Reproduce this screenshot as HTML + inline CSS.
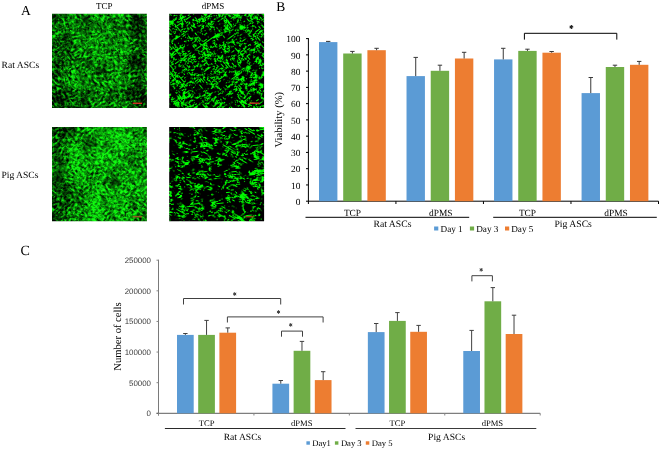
<!DOCTYPE html>
<html><head><meta charset="utf-8"><style>
html,body{margin:0;padding:0;background:#fff;}
body{width:660px;height:449px;overflow:hidden;}
svg{display:block;will-change:transform;text-rendering:geometricPrecision;}
</style></head><body>
<svg width="660" height="449" viewBox="0 0 660 449">
<defs><filter id="fT1a" filterUnits="userSpaceOnUse" x="-8" y="-46.2" width="215" height="214" color-interpolation-filters="sRGB">
<feGaussianBlur in="SourceGraphic" stdDeviation="3" result="map"/>
<feTurbulence type="fractalNoise" baseFrequency="0.28 0.5" numOctaves="2" seed="3" result="t"/>
<feColorMatrix in="t" type="matrix" values="2.3 0 0 0 -0.75  2.3 0 0 0 -0.75  2.3 0 0 0 -0.75  0 0 0 0 1" result="F"/>
<feTurbulence type="fractalNoise" baseFrequency="0.05" numOctaves="3" seed="34" result="t2"/>
<feColorMatrix in="t2" type="matrix" values="2 0 0 0 -0.2  2 0 0 0 -0.2  2 0 0 0 -0.2  0 0 0 0 1" result="M"/>
<feComposite in="F" in2="M" operator="arithmetic" k1="1" k2="0" k3="0" k4="0" result="FM"/>
<feComposite in="FM" in2="map" operator="arithmetic" k1="0" k2="1" k3="1" k4="-0.9" result="v"/>
<feColorMatrix in="v" type="matrix" values="0 0.08 0 0 0  0 1.35 0 0 0  0 0.08 0 0 0  0 0 0 0 1"/><feGaussianBlur stdDeviation="0.6"/></filter><filter id="fT1b" filterUnits="userSpaceOnUse" x="-8" y="-46.2" width="215" height="214" color-interpolation-filters="sRGB">
<feGaussianBlur in="SourceGraphic" stdDeviation="3" result="map"/>
<feTurbulence type="fractalNoise" baseFrequency="0.28 0.5" numOctaves="2" seed="7" result="t"/>
<feColorMatrix in="t" type="matrix" values="2.3 0 0 0 -0.75  2.3 0 0 0 -0.75  2.3 0 0 0 -0.75  0 0 0 0 1" result="F"/>
<feTurbulence type="fractalNoise" baseFrequency="0.05" numOctaves="3" seed="38" result="t2"/>
<feColorMatrix in="t2" type="matrix" values="2 0 0 0 -0.2  2 0 0 0 -0.2  2 0 0 0 -0.2  0 0 0 0 1" result="M"/>
<feComposite in="F" in2="M" operator="arithmetic" k1="1" k2="0" k3="0" k4="0" result="FM"/>
<feComposite in="FM" in2="map" operator="arithmetic" k1="0" k2="1" k3="1" k4="-0.9" result="v"/>
<feColorMatrix in="v" type="matrix" values="0 0.08 0 0 0  0 1.35 0 0 0  0 0.08 0 0 0  0 0 0 0 1"/><feGaussianBlur stdDeviation="0.6"/></filter><filter id="fT2a" filterUnits="userSpaceOnUse" x="-8" y="66.9" width="215" height="214" color-interpolation-filters="sRGB">
<feGaussianBlur in="SourceGraphic" stdDeviation="3" result="map"/>
<feTurbulence type="fractalNoise" baseFrequency="0.28 0.5" numOctaves="2" seed="9" result="t"/>
<feColorMatrix in="t" type="matrix" values="2.3 0 0 0 -0.72  2.3 0 0 0 -0.72  2.3 0 0 0 -0.72  0 0 0 0 1" result="F"/>
<feTurbulence type="fractalNoise" baseFrequency="0.05" numOctaves="3" seed="40" result="t2"/>
<feColorMatrix in="t2" type="matrix" values="2 0 0 0 -0.2  2 0 0 0 -0.2  2 0 0 0 -0.2  0 0 0 0 1" result="M"/>
<feComposite in="F" in2="M" operator="arithmetic" k1="1" k2="0" k3="0" k4="0" result="FM"/>
<feComposite in="FM" in2="map" operator="arithmetic" k1="0" k2="1" k3="1" k4="-0.9" result="v"/>
<feColorMatrix in="v" type="matrix" values="0 0.08 0 0 0  0 1.35 0 0 0  0 0.08 0 0 0  0 0 0 0 1"/><feGaussianBlur stdDeviation="0.6"/></filter><filter id="fT2b" filterUnits="userSpaceOnUse" x="-8" y="66.9" width="215" height="214" color-interpolation-filters="sRGB">
<feGaussianBlur in="SourceGraphic" stdDeviation="3" result="map"/>
<feTurbulence type="fractalNoise" baseFrequency="0.28 0.5" numOctaves="2" seed="15" result="t"/>
<feColorMatrix in="t" type="matrix" values="2.3 0 0 0 -0.72  2.3 0 0 0 -0.72  2.3 0 0 0 -0.72  0 0 0 0 1" result="F"/>
<feTurbulence type="fractalNoise" baseFrequency="0.05" numOctaves="3" seed="46" result="t2"/>
<feColorMatrix in="t2" type="matrix" values="2 0 0 0 -0.2  2 0 0 0 -0.2  2 0 0 0 -0.2  0 0 0 0 1" result="M"/>
<feComposite in="F" in2="M" operator="arithmetic" k1="1" k2="0" k3="0" k4="0" result="FM"/>
<feComposite in="FM" in2="map" operator="arithmetic" k1="0" k2="1" k3="1" k4="-0.9" result="v"/>
<feColorMatrix in="v" type="matrix" values="0 0.08 0 0 0  0 1.35 0 0 0  0 0.08 0 0 0  0 0 0 0 1"/><feGaussianBlur stdDeviation="0.6"/></filter><filter id="fD1a" filterUnits="userSpaceOnUse" x="109.19999999999999" y="-46.2" width="215" height="214" color-interpolation-filters="sRGB">
<feGaussianBlur in="SourceGraphic" stdDeviation="4" result="map"/>
<feTurbulence type="turbulence" baseFrequency="0.12 0.3" numOctaves="2" seed="5" result="t"/>
<feColorMatrix in="t" type="matrix" values="-5 0 0 0 1.1  -5 0 0 0 1.1  -5 0 0 0 1.1  0 0 0 0 1" result="L"/>
<feTurbulence type="fractalNoise" baseFrequency="0.1" numOctaves="2" seed="22" result="t2"/>
<feColorMatrix in="t2" type="matrix" values="1 0 0 0 0  1 0 0 0 0  1 0 0 0 0  0 0 0 0 1" result="T"/>
<feComposite in="T" in2="map" operator="arithmetic" k1="0" k2="4" k3="3" k4="-4.1" result="M"/>
<feComposite in="L" in2="M" operator="arithmetic" k1="1" k2="0" k3="0" k4="0" result="LM"/>
<feColorMatrix in="LM" type="matrix" values="0 0 0 0 0  0 3.4 0 0 -0.68  0 0 0 0 0  0 0 0 0 1"/><feGaussianBlur stdDeviation="0.6"/></filter><filter id="fD1b" filterUnits="userSpaceOnUse" x="109.19999999999999" y="-46.2" width="215" height="214" color-interpolation-filters="sRGB">
<feGaussianBlur in="SourceGraphic" stdDeviation="4" result="map"/>
<feTurbulence type="turbulence" baseFrequency="0.12 0.3" numOctaves="2" seed="11" result="t"/>
<feColorMatrix in="t" type="matrix" values="-5 0 0 0 1.1  -5 0 0 0 1.1  -5 0 0 0 1.1  0 0 0 0 1" result="L"/>
<feTurbulence type="fractalNoise" baseFrequency="0.1" numOctaves="2" seed="28" result="t2"/>
<feColorMatrix in="t2" type="matrix" values="1 0 0 0 0  1 0 0 0 0  1 0 0 0 0  0 0 0 0 1" result="T"/>
<feComposite in="T" in2="map" operator="arithmetic" k1="0" k2="4" k3="3" k4="-4.3" result="M"/>
<feComposite in="L" in2="M" operator="arithmetic" k1="1" k2="0" k3="0" k4="0" result="LM"/>
<feColorMatrix in="LM" type="matrix" values="0 0 0 0 0  0 3.4 0 0 -0.68  0 0 0 0 0  0 0 0 0 1"/><feGaussianBlur stdDeviation="0.6"/></filter><filter id="fD2a" filterUnits="userSpaceOnUse" x="109.19999999999999" y="66.9" width="215" height="214" color-interpolation-filters="sRGB">
<feGaussianBlur in="SourceGraphic" stdDeviation="4" result="map"/>
<feTurbulence type="turbulence" baseFrequency="0.1 0.24" numOctaves="2" seed="8" result="t"/>
<feColorMatrix in="t" type="matrix" values="-5 0 0 0 1.1  -5 0 0 0 1.1  -5 0 0 0 1.1  0 0 0 0 1" result="L"/>
<feTurbulence type="fractalNoise" baseFrequency="0.08" numOctaves="2" seed="25" result="t2"/>
<feColorMatrix in="t2" type="matrix" values="1 0 0 0 0  1 0 0 0 0  1 0 0 0 0  0 0 0 0 1" result="T"/>
<feComposite in="T" in2="map" operator="arithmetic" k1="0" k2="4" k3="3" k4="-4.2" result="M"/>
<feComposite in="L" in2="M" operator="arithmetic" k1="1" k2="0" k3="0" k4="0" result="LM"/>
<feColorMatrix in="LM" type="matrix" values="0 0 0 0 0  0 3.6 0 0 -0.792  0 0 0 0 0  0 0 0 0 1"/><feGaussianBlur stdDeviation="0.6"/></filter><filter id="fD2b" filterUnits="userSpaceOnUse" x="109.19999999999999" y="66.9" width="215" height="214" color-interpolation-filters="sRGB">
<feGaussianBlur in="SourceGraphic" stdDeviation="4" result="map"/>
<feTurbulence type="turbulence" baseFrequency="0.1 0.24" numOctaves="2" seed="13" result="t"/>
<feColorMatrix in="t" type="matrix" values="-5 0 0 0 1.1  -5 0 0 0 1.1  -5 0 0 0 1.1  0 0 0 0 1" result="L"/>
<feTurbulence type="fractalNoise" baseFrequency="0.08" numOctaves="2" seed="30" result="t2"/>
<feColorMatrix in="t2" type="matrix" values="1 0 0 0 0  1 0 0 0 0  1 0 0 0 0  0 0 0 0 1" result="T"/>
<feComposite in="T" in2="map" operator="arithmetic" k1="0" k2="4" k3="3" k4="-4.4" result="M"/>
<feComposite in="L" in2="M" operator="arithmetic" k1="1" k2="0" k3="0" k4="0" result="LM"/>
<feColorMatrix in="LM" type="matrix" values="0 0 0 0 0  0 3.6 0 0 -0.792  0 0 0 0 0  0 0 0 0 1"/><feGaussianBlur stdDeviation="0.6"/></filter></defs>
<rect width="660" height="449" fill="#fff"/>
<text x="21.1" y="15.2" font-size="13.6" text-anchor="start" font-family="'Liberation Serif', serif" fill="#000" >A</text>
<text x="104.2" y="8.6" font-size="9" text-anchor="middle" font-family="'Liberation Serif', serif" fill="#000" >TCP</text>
<text x="213" y="8.6" font-size="9" text-anchor="middle" font-family="'Liberation Serif', serif" fill="#000" >dPMS</text>
<text x="1.6" y="67.9" font-size="9.6" text-anchor="start" font-family="'Liberation Serif', serif" fill="#000" >Rat ASCs</text>
<text x="1.4" y="177.8" font-size="9.6" text-anchor="start" font-family="'Liberation Serif', serif" fill="#000" >Pig ASCs</text>
<clipPath id="cT1"><rect x="52" y="13.8" width="94.9" height="94.3"/></clipPath><g clip-path="url(#cT1)" style="isolation:isolate"><g transform="rotate(-35 99.45 60.95)" filter="url(#fT1a)"><g transform="rotate(35 99.45 60.95)"><rect x="12.0" y="-26.2" width="59.6" height="59.5" fill="rgb(0,204,0)"/><rect x="71.0" y="-26.2" width="19.6" height="59.5" fill="rgb(0,214,0)"/><rect x="90.0" y="-26.2" width="19.6" height="59.5" fill="rgb(0,219,0)"/><rect x="108.9" y="-26.2" width="19.6" height="59.5" fill="rgb(0,214,0)"/><rect x="127.9" y="-26.2" width="59.6" height="59.5" fill="rgb(0,189,0)"/><rect x="12.0" y="32.7" width="59.6" height="19.5" fill="rgb(0,178,0)"/><rect x="71.0" y="32.7" width="19.6" height="19.5" fill="rgb(0,219,0)"/><rect x="90.0" y="32.7" width="19.6" height="19.5" fill="rgb(0,230,0)"/><rect x="108.9" y="32.7" width="19.6" height="19.5" fill="rgb(0,219,0)"/><rect x="127.9" y="32.7" width="59.6" height="19.5" fill="rgb(0,194,0)"/><rect x="12.0" y="51.5" width="59.6" height="19.5" fill="rgb(0,168,0)"/><rect x="71.0" y="51.5" width="19.6" height="19.5" fill="rgb(0,214,0)"/><rect x="90.0" y="51.5" width="19.6" height="19.5" fill="rgb(0,219,0)"/><rect x="108.9" y="51.5" width="19.6" height="19.5" fill="rgb(0,204,0)"/><rect x="127.9" y="51.5" width="59.6" height="19.5" fill="rgb(0,178,0)"/><rect x="12.0" y="70.4" width="59.6" height="19.5" fill="rgb(0,194,0)"/><rect x="71.0" y="70.4" width="19.6" height="19.5" fill="rgb(0,230,0)"/><rect x="90.0" y="70.4" width="19.6" height="19.5" fill="rgb(0,219,0)"/><rect x="108.9" y="70.4" width="19.6" height="19.5" fill="rgb(0,224,0)"/><rect x="127.9" y="70.4" width="59.6" height="19.5" fill="rgb(0,204,0)"/><rect x="12.0" y="89.2" width="59.6" height="59.5" fill="rgb(0,163,0)"/><rect x="71.0" y="89.2" width="19.6" height="59.5" fill="rgb(0,189,0)"/><rect x="90.0" y="89.2" width="19.6" height="59.5" fill="rgb(0,204,0)"/><rect x="108.9" y="89.2" width="19.6" height="59.5" fill="rgb(0,189,0)"/><rect x="127.9" y="89.2" width="59.6" height="59.5" fill="rgb(0,163,0)"/></g></g><g style="mix-blend-mode:lighten"><g transform="rotate(50 99.45 60.95)" filter="url(#fT1b)"><g transform="rotate(-50 99.45 60.95)"><rect x="12.0" y="-26.2" width="59.6" height="59.5" fill="rgb(0,204,0)"/><rect x="71.0" y="-26.2" width="19.6" height="59.5" fill="rgb(0,214,0)"/><rect x="90.0" y="-26.2" width="19.6" height="59.5" fill="rgb(0,219,0)"/><rect x="108.9" y="-26.2" width="19.6" height="59.5" fill="rgb(0,214,0)"/><rect x="127.9" y="-26.2" width="59.6" height="59.5" fill="rgb(0,189,0)"/><rect x="12.0" y="32.7" width="59.6" height="19.5" fill="rgb(0,178,0)"/><rect x="71.0" y="32.7" width="19.6" height="19.5" fill="rgb(0,219,0)"/><rect x="90.0" y="32.7" width="19.6" height="19.5" fill="rgb(0,230,0)"/><rect x="108.9" y="32.7" width="19.6" height="19.5" fill="rgb(0,219,0)"/><rect x="127.9" y="32.7" width="59.6" height="19.5" fill="rgb(0,194,0)"/><rect x="12.0" y="51.5" width="59.6" height="19.5" fill="rgb(0,168,0)"/><rect x="71.0" y="51.5" width="19.6" height="19.5" fill="rgb(0,214,0)"/><rect x="90.0" y="51.5" width="19.6" height="19.5" fill="rgb(0,219,0)"/><rect x="108.9" y="51.5" width="19.6" height="19.5" fill="rgb(0,204,0)"/><rect x="127.9" y="51.5" width="59.6" height="19.5" fill="rgb(0,178,0)"/><rect x="12.0" y="70.4" width="59.6" height="19.5" fill="rgb(0,194,0)"/><rect x="71.0" y="70.4" width="19.6" height="19.5" fill="rgb(0,230,0)"/><rect x="90.0" y="70.4" width="19.6" height="19.5" fill="rgb(0,219,0)"/><rect x="108.9" y="70.4" width="19.6" height="19.5" fill="rgb(0,224,0)"/><rect x="127.9" y="70.4" width="59.6" height="19.5" fill="rgb(0,204,0)"/><rect x="12.0" y="89.2" width="59.6" height="59.5" fill="rgb(0,163,0)"/><rect x="71.0" y="89.2" width="19.6" height="59.5" fill="rgb(0,189,0)"/><rect x="90.0" y="89.2" width="19.6" height="59.5" fill="rgb(0,204,0)"/><rect x="108.9" y="89.2" width="19.6" height="59.5" fill="rgb(0,189,0)"/><rect x="127.9" y="89.2" width="59.6" height="59.5" fill="rgb(0,163,0)"/></g></g></g></g>
<clipPath id="cD1"><rect x="169.2" y="13.8" width="94.9" height="94.3"/></clipPath><g clip-path="url(#cD1)" style="isolation:isolate"><g transform="rotate(-35 216.64999999999998 60.95)" filter="url(#fD1a)"><g transform="rotate(35 216.64999999999998 60.95)"><rect x="129.2" y="-26.2" width="59.6" height="59.5" fill="rgb(0,247,0)"/><rect x="188.2" y="-26.2" width="19.6" height="59.5" fill="rgb(0,252,0)"/><rect x="207.2" y="-26.2" width="19.6" height="59.5" fill="rgb(0,255,0)"/><rect x="226.1" y="-26.2" width="19.6" height="59.5" fill="rgb(0,255,0)"/><rect x="245.1" y="-26.2" width="59.6" height="59.5" fill="rgb(0,255,0)"/><rect x="129.2" y="32.7" width="59.6" height="19.5" fill="rgb(0,250,0)"/><rect x="188.2" y="32.7" width="19.6" height="19.5" fill="rgb(0,252,0)"/><rect x="207.2" y="32.7" width="19.6" height="19.5" fill="rgb(0,255,0)"/><rect x="226.1" y="32.7" width="19.6" height="19.5" fill="rgb(0,255,0)"/><rect x="245.1" y="32.7" width="59.6" height="19.5" fill="rgb(0,255,0)"/><rect x="129.2" y="51.5" width="59.6" height="19.5" fill="rgb(0,252,0)"/><rect x="188.2" y="51.5" width="19.6" height="19.5" fill="rgb(0,255,0)"/><rect x="207.2" y="51.5" width="19.6" height="19.5" fill="rgb(0,255,0)"/><rect x="226.1" y="51.5" width="19.6" height="19.5" fill="rgb(0,252,0)"/><rect x="245.1" y="51.5" width="59.6" height="19.5" fill="rgb(0,252,0)"/><rect x="129.2" y="70.4" width="59.6" height="19.5" fill="rgb(0,247,0)"/><rect x="188.2" y="70.4" width="19.6" height="19.5" fill="rgb(0,252,0)"/><rect x="207.2" y="70.4" width="19.6" height="19.5" fill="rgb(0,252,0)"/><rect x="226.1" y="70.4" width="19.6" height="19.5" fill="rgb(0,247,0)"/><rect x="245.1" y="70.4" width="59.6" height="19.5" fill="rgb(0,252,0)"/><rect x="129.2" y="89.2" width="59.6" height="59.5" fill="rgb(0,242,0)"/><rect x="188.2" y="89.2" width="19.6" height="59.5" fill="rgb(0,247,0)"/><rect x="207.2" y="89.2" width="19.6" height="59.5" fill="rgb(0,245,0)"/><rect x="226.1" y="89.2" width="19.6" height="59.5" fill="rgb(0,242,0)"/><rect x="245.1" y="89.2" width="59.6" height="59.5" fill="rgb(0,247,0)"/></g></g><g style="mix-blend-mode:lighten"><g transform="rotate(50 216.64999999999998 60.95)" filter="url(#fD1b)"><g transform="rotate(-50 216.64999999999998 60.95)"><rect x="129.2" y="-26.2" width="59.6" height="59.5" fill="rgb(0,247,0)"/><rect x="188.2" y="-26.2" width="19.6" height="59.5" fill="rgb(0,252,0)"/><rect x="207.2" y="-26.2" width="19.6" height="59.5" fill="rgb(0,255,0)"/><rect x="226.1" y="-26.2" width="19.6" height="59.5" fill="rgb(0,255,0)"/><rect x="245.1" y="-26.2" width="59.6" height="59.5" fill="rgb(0,255,0)"/><rect x="129.2" y="32.7" width="59.6" height="19.5" fill="rgb(0,250,0)"/><rect x="188.2" y="32.7" width="19.6" height="19.5" fill="rgb(0,252,0)"/><rect x="207.2" y="32.7" width="19.6" height="19.5" fill="rgb(0,255,0)"/><rect x="226.1" y="32.7" width="19.6" height="19.5" fill="rgb(0,255,0)"/><rect x="245.1" y="32.7" width="59.6" height="19.5" fill="rgb(0,255,0)"/><rect x="129.2" y="51.5" width="59.6" height="19.5" fill="rgb(0,252,0)"/><rect x="188.2" y="51.5" width="19.6" height="19.5" fill="rgb(0,255,0)"/><rect x="207.2" y="51.5" width="19.6" height="19.5" fill="rgb(0,255,0)"/><rect x="226.1" y="51.5" width="19.6" height="19.5" fill="rgb(0,252,0)"/><rect x="245.1" y="51.5" width="59.6" height="19.5" fill="rgb(0,252,0)"/><rect x="129.2" y="70.4" width="59.6" height="19.5" fill="rgb(0,247,0)"/><rect x="188.2" y="70.4" width="19.6" height="19.5" fill="rgb(0,252,0)"/><rect x="207.2" y="70.4" width="19.6" height="19.5" fill="rgb(0,252,0)"/><rect x="226.1" y="70.4" width="19.6" height="19.5" fill="rgb(0,247,0)"/><rect x="245.1" y="70.4" width="59.6" height="19.5" fill="rgb(0,252,0)"/><rect x="129.2" y="89.2" width="59.6" height="59.5" fill="rgb(0,242,0)"/><rect x="188.2" y="89.2" width="19.6" height="59.5" fill="rgb(0,247,0)"/><rect x="207.2" y="89.2" width="19.6" height="59.5" fill="rgb(0,245,0)"/><rect x="226.1" y="89.2" width="19.6" height="59.5" fill="rgb(0,242,0)"/><rect x="245.1" y="89.2" width="59.6" height="59.5" fill="rgb(0,247,0)"/></g></g></g></g>
<clipPath id="cT2"><rect x="52" y="126.9" width="94.9" height="94.3"/></clipPath><g clip-path="url(#cT2)" style="isolation:isolate"><g transform="rotate(-40 99.45 174.05)" filter="url(#fT2a)"><g transform="rotate(40 99.45 174.05)"><rect x="12.0" y="86.9" width="59.6" height="59.5" fill="rgb(0,168,0)"/><rect x="71.0" y="86.9" width="19.6" height="59.5" fill="rgb(0,214,0)"/><rect x="90.0" y="86.9" width="19.6" height="59.5" fill="rgb(0,245,0)"/><rect x="108.9" y="86.9" width="19.6" height="59.5" fill="rgb(0,245,0)"/><rect x="127.9" y="86.9" width="59.6" height="59.5" fill="rgb(0,230,0)"/><rect x="12.0" y="145.8" width="59.6" height="19.5" fill="rgb(0,189,0)"/><rect x="71.0" y="145.8" width="19.6" height="19.5" fill="rgb(0,240,0)"/><rect x="90.0" y="145.8" width="19.6" height="19.5" fill="rgb(0,250,0)"/><rect x="108.9" y="145.8" width="19.6" height="19.5" fill="rgb(0,245,0)"/><rect x="127.9" y="145.8" width="59.6" height="19.5" fill="rgb(0,209,0)"/><rect x="12.0" y="164.6" width="59.6" height="19.5" fill="rgb(0,230,0)"/><rect x="71.0" y="164.6" width="19.6" height="19.5" fill="rgb(0,230,0)"/><rect x="90.0" y="164.6" width="19.6" height="19.5" fill="rgb(0,209,0)"/><rect x="108.9" y="164.6" width="19.6" height="19.5" fill="rgb(0,230,0)"/><rect x="127.9" y="164.6" width="59.6" height="19.5" fill="rgb(0,235,0)"/><rect x="12.0" y="183.5" width="59.6" height="19.5" fill="rgb(0,178,0)"/><rect x="71.0" y="183.5" width="19.6" height="19.5" fill="rgb(0,219,0)"/><rect x="90.0" y="183.5" width="19.6" height="19.5" fill="rgb(0,245,0)"/><rect x="108.9" y="183.5" width="19.6" height="19.5" fill="rgb(0,245,0)"/><rect x="127.9" y="183.5" width="59.6" height="19.5" fill="rgb(0,235,0)"/><rect x="12.0" y="202.3" width="59.6" height="59.5" fill="rgb(0,173,0)"/><rect x="71.0" y="202.3" width="19.6" height="59.5" fill="rgb(0,214,0)"/><rect x="90.0" y="202.3" width="19.6" height="59.5" fill="rgb(0,240,0)"/><rect x="108.9" y="202.3" width="19.6" height="59.5" fill="rgb(0,235,0)"/><rect x="127.9" y="202.3" width="59.6" height="59.5" fill="rgb(0,204,0)"/></g></g><g style="mix-blend-mode:lighten"><g transform="rotate(35 99.45 174.05)" filter="url(#fT2b)"><g transform="rotate(-35 99.45 174.05)"><rect x="12.0" y="86.9" width="59.6" height="59.5" fill="rgb(0,168,0)"/><rect x="71.0" y="86.9" width="19.6" height="59.5" fill="rgb(0,214,0)"/><rect x="90.0" y="86.9" width="19.6" height="59.5" fill="rgb(0,245,0)"/><rect x="108.9" y="86.9" width="19.6" height="59.5" fill="rgb(0,245,0)"/><rect x="127.9" y="86.9" width="59.6" height="59.5" fill="rgb(0,230,0)"/><rect x="12.0" y="145.8" width="59.6" height="19.5" fill="rgb(0,189,0)"/><rect x="71.0" y="145.8" width="19.6" height="19.5" fill="rgb(0,240,0)"/><rect x="90.0" y="145.8" width="19.6" height="19.5" fill="rgb(0,250,0)"/><rect x="108.9" y="145.8" width="19.6" height="19.5" fill="rgb(0,245,0)"/><rect x="127.9" y="145.8" width="59.6" height="19.5" fill="rgb(0,209,0)"/><rect x="12.0" y="164.6" width="59.6" height="19.5" fill="rgb(0,230,0)"/><rect x="71.0" y="164.6" width="19.6" height="19.5" fill="rgb(0,230,0)"/><rect x="90.0" y="164.6" width="19.6" height="19.5" fill="rgb(0,209,0)"/><rect x="108.9" y="164.6" width="19.6" height="19.5" fill="rgb(0,230,0)"/><rect x="127.9" y="164.6" width="59.6" height="19.5" fill="rgb(0,235,0)"/><rect x="12.0" y="183.5" width="59.6" height="19.5" fill="rgb(0,178,0)"/><rect x="71.0" y="183.5" width="19.6" height="19.5" fill="rgb(0,219,0)"/><rect x="90.0" y="183.5" width="19.6" height="19.5" fill="rgb(0,245,0)"/><rect x="108.9" y="183.5" width="19.6" height="19.5" fill="rgb(0,245,0)"/><rect x="127.9" y="183.5" width="59.6" height="19.5" fill="rgb(0,235,0)"/><rect x="12.0" y="202.3" width="59.6" height="59.5" fill="rgb(0,173,0)"/><rect x="71.0" y="202.3" width="19.6" height="59.5" fill="rgb(0,214,0)"/><rect x="90.0" y="202.3" width="19.6" height="59.5" fill="rgb(0,240,0)"/><rect x="108.9" y="202.3" width="19.6" height="59.5" fill="rgb(0,235,0)"/><rect x="127.9" y="202.3" width="59.6" height="59.5" fill="rgb(0,204,0)"/></g></g></g></g>
<clipPath id="cD2"><rect x="169.2" y="126.9" width="94.9" height="94.3"/></clipPath><g clip-path="url(#cD2)" style="isolation:isolate"><g transform="rotate(-6 216.64999999999998 174.05)" filter="url(#fD2a)"><g transform="rotate(6 216.64999999999998 174.05)"><rect x="129.2" y="86.9" width="59.6" height="59.5" fill="rgb(0,217,0)"/><rect x="188.2" y="86.9" width="19.6" height="59.5" fill="rgb(0,232,0)"/><rect x="207.2" y="86.9" width="19.6" height="59.5" fill="rgb(0,237,0)"/><rect x="226.1" y="86.9" width="19.6" height="59.5" fill="rgb(0,242,0)"/><rect x="245.1" y="86.9" width="59.6" height="59.5" fill="rgb(0,247,0)"/><rect x="129.2" y="145.8" width="59.6" height="19.5" fill="rgb(0,242,0)"/><rect x="188.2" y="145.8" width="19.6" height="19.5" fill="rgb(0,252,0)"/><rect x="207.2" y="145.8" width="19.6" height="19.5" fill="rgb(0,255,0)"/><rect x="226.1" y="145.8" width="19.6" height="19.5" fill="rgb(0,252,0)"/><rect x="245.1" y="145.8" width="59.6" height="19.5" fill="rgb(0,250,0)"/><rect x="129.2" y="164.6" width="59.6" height="19.5" fill="rgb(0,242,0)"/><rect x="188.2" y="164.6" width="19.6" height="19.5" fill="rgb(0,235,0)"/><rect x="207.2" y="164.6" width="19.6" height="19.5" fill="rgb(0,245,0)"/><rect x="226.1" y="164.6" width="19.6" height="19.5" fill="rgb(0,252,0)"/><rect x="245.1" y="164.6" width="59.6" height="19.5" fill="rgb(0,247,0)"/><rect x="129.2" y="183.5" width="59.6" height="19.5" fill="rgb(0,235,0)"/><rect x="188.2" y="183.5" width="19.6" height="19.5" fill="rgb(0,235,0)"/><rect x="207.2" y="183.5" width="19.6" height="19.5" fill="rgb(0,242,0)"/><rect x="226.1" y="183.5" width="19.6" height="19.5" fill="rgb(0,247,0)"/><rect x="245.1" y="183.5" width="59.6" height="19.5" fill="rgb(0,252,0)"/><rect x="129.2" y="202.3" width="59.6" height="59.5" fill="rgb(0,235,0)"/><rect x="188.2" y="202.3" width="19.6" height="59.5" fill="rgb(0,235,0)"/><rect x="207.2" y="202.3" width="19.6" height="59.5" fill="rgb(0,245,0)"/><rect x="226.1" y="202.3" width="19.6" height="59.5" fill="rgb(0,252,0)"/><rect x="245.1" y="202.3" width="59.6" height="59.5" fill="rgb(0,247,0)"/></g></g><g style="mix-blend-mode:lighten"><g transform="rotate(30 216.64999999999998 174.05)" filter="url(#fD2b)"><g transform="rotate(-30 216.64999999999998 174.05)"><rect x="129.2" y="86.9" width="59.6" height="59.5" fill="rgb(0,217,0)"/><rect x="188.2" y="86.9" width="19.6" height="59.5" fill="rgb(0,232,0)"/><rect x="207.2" y="86.9" width="19.6" height="59.5" fill="rgb(0,237,0)"/><rect x="226.1" y="86.9" width="19.6" height="59.5" fill="rgb(0,242,0)"/><rect x="245.1" y="86.9" width="59.6" height="59.5" fill="rgb(0,247,0)"/><rect x="129.2" y="145.8" width="59.6" height="19.5" fill="rgb(0,242,0)"/><rect x="188.2" y="145.8" width="19.6" height="19.5" fill="rgb(0,252,0)"/><rect x="207.2" y="145.8" width="19.6" height="19.5" fill="rgb(0,255,0)"/><rect x="226.1" y="145.8" width="19.6" height="19.5" fill="rgb(0,252,0)"/><rect x="245.1" y="145.8" width="59.6" height="19.5" fill="rgb(0,250,0)"/><rect x="129.2" y="164.6" width="59.6" height="19.5" fill="rgb(0,242,0)"/><rect x="188.2" y="164.6" width="19.6" height="19.5" fill="rgb(0,235,0)"/><rect x="207.2" y="164.6" width="19.6" height="19.5" fill="rgb(0,245,0)"/><rect x="226.1" y="164.6" width="19.6" height="19.5" fill="rgb(0,252,0)"/><rect x="245.1" y="164.6" width="59.6" height="19.5" fill="rgb(0,247,0)"/><rect x="129.2" y="183.5" width="59.6" height="19.5" fill="rgb(0,235,0)"/><rect x="188.2" y="183.5" width="19.6" height="19.5" fill="rgb(0,235,0)"/><rect x="207.2" y="183.5" width="19.6" height="19.5" fill="rgb(0,242,0)"/><rect x="226.1" y="183.5" width="19.6" height="19.5" fill="rgb(0,247,0)"/><rect x="245.1" y="183.5" width="59.6" height="19.5" fill="rgb(0,252,0)"/><rect x="129.2" y="202.3" width="59.6" height="59.5" fill="rgb(0,235,0)"/><rect x="188.2" y="202.3" width="19.6" height="59.5" fill="rgb(0,235,0)"/><rect x="207.2" y="202.3" width="19.6" height="59.5" fill="rgb(0,245,0)"/><rect x="226.1" y="202.3" width="19.6" height="59.5" fill="rgb(0,252,0)"/><rect x="245.1" y="202.3" width="59.6" height="59.5" fill="rgb(0,247,0)"/></g></g></g></g>
<line x1="132.7" y1="103.3" x2="142.1" y2="103.3" stroke="#d0301e" stroke-width="1.4"/>
<line x1="249.4" y1="103.2" x2="259.4" y2="103.2" stroke="#c8301e" stroke-width="1.4"/>
<line x1="132.7" y1="216.7" x2="142.1" y2="216.7" stroke="#9a5a20" stroke-width="1.4"/>
<line x1="245.7" y1="216.7" x2="253.7" y2="216.7" stroke="#8a4a1a" stroke-width="1.4"/>
<text x="276.3" y="10.6" font-size="13.5" text-anchor="start" font-family="'Liberation Serif', serif" fill="#000" >B</text>
<line x1="308.4" y1="38.1" x2="308.4" y2="201.7" stroke="#000" stroke-width="1"/>
<line x1="306.0" y1="201.2" x2="308.4" y2="201.2" stroke="#000" stroke-width="1"/>
<text x="300.4" y="205.0" font-size="9.4" text-anchor="end" font-family="'Liberation Serif', serif" fill="#000" >0</text>
<line x1="306.0" y1="184.94" x2="308.4" y2="184.94" stroke="#000" stroke-width="1"/>
<text x="300.4" y="188.74" font-size="9.4" text-anchor="end" font-family="'Liberation Serif', serif" fill="#000" >10</text>
<line x1="306.0" y1="168.67999999999998" x2="308.4" y2="168.67999999999998" stroke="#000" stroke-width="1"/>
<text x="300.4" y="172.48" font-size="9.4" text-anchor="end" font-family="'Liberation Serif', serif" fill="#000" >20</text>
<line x1="306.0" y1="152.42" x2="308.4" y2="152.42" stroke="#000" stroke-width="1"/>
<text x="300.4" y="156.22" font-size="9.4" text-anchor="end" font-family="'Liberation Serif', serif" fill="#000" >30</text>
<line x1="306.0" y1="136.15999999999997" x2="308.4" y2="136.15999999999997" stroke="#000" stroke-width="1"/>
<text x="300.4" y="139.95999999999998" font-size="9.4" text-anchor="end" font-family="'Liberation Serif', serif" fill="#000" >40</text>
<line x1="306.0" y1="119.89999999999999" x2="308.4" y2="119.89999999999999" stroke="#000" stroke-width="1"/>
<text x="300.4" y="123.69999999999999" font-size="9.4" text-anchor="end" font-family="'Liberation Serif', serif" fill="#000" >50</text>
<line x1="306.0" y1="103.63999999999999" x2="308.4" y2="103.63999999999999" stroke="#000" stroke-width="1"/>
<text x="300.4" y="107.43999999999998" font-size="9.4" text-anchor="end" font-family="'Liberation Serif', serif" fill="#000" >60</text>
<line x1="306.0" y1="87.38" x2="308.4" y2="87.38" stroke="#000" stroke-width="1"/>
<text x="300.4" y="91.17999999999999" font-size="9.4" text-anchor="end" font-family="'Liberation Serif', serif" fill="#000" >70</text>
<line x1="306.0" y1="71.11999999999998" x2="308.4" y2="71.11999999999998" stroke="#000" stroke-width="1"/>
<text x="300.4" y="74.91999999999997" font-size="9.4" text-anchor="end" font-family="'Liberation Serif', serif" fill="#000" >80</text>
<line x1="306.0" y1="54.859999999999985" x2="308.4" y2="54.859999999999985" stroke="#000" stroke-width="1"/>
<text x="300.4" y="58.65999999999998" font-size="9.4" text-anchor="end" font-family="'Liberation Serif', serif" fill="#000" >90</text>
<line x1="306.0" y1="38.599999999999994" x2="308.4" y2="38.599999999999994" stroke="#000" stroke-width="1"/>
<text x="300.4" y="42.39999999999999" font-size="9.4" text-anchor="end" font-family="'Liberation Serif', serif" fill="#000" >100</text>
<text x="0" y="0" font-size="10.6" text-anchor="middle" font-family="'Liberation Serif', serif" transform="translate(281.5 119.7) rotate(-90)">Viability (%)</text>
<line x1="308.4" y1="201.2" x2="658.5" y2="201.2" stroke="#000" stroke-width="1"/>
<line x1="308.4" y1="201.2" x2="308.4" y2="204.0" stroke="#000" stroke-width="1"/>
<line x1="395.92499999999995" y1="201.2" x2="395.92499999999995" y2="204.0" stroke="#000" stroke-width="1"/>
<line x1="483.45" y1="201.2" x2="483.45" y2="204.0" stroke="#000" stroke-width="1"/>
<line x1="570.975" y1="201.2" x2="570.975" y2="204.0" stroke="#000" stroke-width="1"/>
<line x1="658.5" y1="201.2" x2="658.5" y2="204.0" stroke="#000" stroke-width="1"/>
<rect x="319.0" y="42.1" width="18.4" height="159.1" fill="#5B9BD5"/>
<line x1="328.2" y1="41.4" x2="328.2" y2="42.1" stroke="#383838" stroke-width="1"/>
<line x1="326.0" y1="41.4" x2="330.4" y2="41.4" stroke="#383838" stroke-width="1"/>
<rect x="343.2" y="53.5" width="18.4" height="147.7" fill="#70AD47"/>
<line x1="352.4" y1="51.4" x2="352.4" y2="53.5" stroke="#383838" stroke-width="1"/>
<line x1="350.2" y1="51.4" x2="354.59999999999997" y2="51.4" stroke="#383838" stroke-width="1"/>
<rect x="367.4" y="50.2" width="18.4" height="151.0" fill="#ED7D31"/>
<line x1="376.59999999999997" y1="48.3" x2="376.59999999999997" y2="50.2" stroke="#383838" stroke-width="1"/>
<line x1="374.4" y1="48.3" x2="378.79999999999995" y2="48.3" stroke="#383838" stroke-width="1"/>
<rect x="406.525" y="76.1" width="18.4" height="125.1" fill="#5B9BD5"/>
<line x1="415.72499999999997" y1="57.4" x2="415.72499999999997" y2="76.1" stroke="#383838" stroke-width="1"/>
<line x1="413.525" y1="57.4" x2="417.92499999999995" y2="57.4" stroke="#383838" stroke-width="1"/>
<rect x="430.72499999999997" y="70.8" width="18.4" height="130.39999999999998" fill="#70AD47"/>
<line x1="439.92499999999995" y1="65.2" x2="439.92499999999995" y2="70.8" stroke="#383838" stroke-width="1"/>
<line x1="437.72499999999997" y1="65.2" x2="442.12499999999994" y2="65.2" stroke="#383838" stroke-width="1"/>
<rect x="454.92499999999995" y="58.5" width="18.4" height="142.7" fill="#ED7D31"/>
<line x1="464.12499999999994" y1="52.3" x2="464.12499999999994" y2="58.5" stroke="#383838" stroke-width="1"/>
<line x1="461.92499999999995" y1="52.3" x2="466.32499999999993" y2="52.3" stroke="#383838" stroke-width="1"/>
<rect x="494.05" y="59.4" width="18.4" height="141.79999999999998" fill="#5B9BD5"/>
<line x1="503.25" y1="48.3" x2="503.25" y2="59.4" stroke="#383838" stroke-width="1"/>
<line x1="501.05" y1="48.3" x2="505.45" y2="48.3" stroke="#383838" stroke-width="1"/>
<rect x="518.25" y="50.9" width="18.4" height="150.29999999999998" fill="#70AD47"/>
<line x1="527.45" y1="49.2" x2="527.45" y2="50.9" stroke="#383838" stroke-width="1"/>
<line x1="525.25" y1="49.2" x2="529.6500000000001" y2="49.2" stroke="#383838" stroke-width="1"/>
<rect x="542.45" y="52.7" width="18.4" height="148.5" fill="#ED7D31"/>
<line x1="551.6500000000001" y1="51.5" x2="551.6500000000001" y2="52.7" stroke="#383838" stroke-width="1"/>
<line x1="549.45" y1="51.5" x2="553.8500000000001" y2="51.5" stroke="#383838" stroke-width="1"/>
<rect x="581.575" y="93.1" width="18.4" height="108.1" fill="#5B9BD5"/>
<line x1="590.7750000000001" y1="77.5" x2="590.7750000000001" y2="93.1" stroke="#383838" stroke-width="1"/>
<line x1="588.575" y1="77.5" x2="592.9750000000001" y2="77.5" stroke="#383838" stroke-width="1"/>
<rect x="605.7750000000001" y="67.0" width="18.4" height="134.2" fill="#70AD47"/>
<line x1="614.9750000000001" y1="65.2" x2="614.9750000000001" y2="67.0" stroke="#383838" stroke-width="1"/>
<line x1="612.7750000000001" y1="65.2" x2="617.1750000000002" y2="65.2" stroke="#383838" stroke-width="1"/>
<rect x="629.975" y="64.8" width="18.4" height="136.39999999999998" fill="#ED7D31"/>
<line x1="639.1750000000001" y1="61.4" x2="639.1750000000001" y2="64.8" stroke="#383838" stroke-width="1"/>
<line x1="636.975" y1="61.4" x2="641.3750000000001" y2="61.4" stroke="#383838" stroke-width="1"/>
<path d="M524.4 39.6 V33.3 H616.8 V39.6" fill="none" stroke="#000" stroke-width="1"/>
<path d="M571.40 24.90L571.40 28.90M569.67 25.90L573.13 27.90M573.13 25.90L569.67 27.90" stroke="#222" stroke-width="1.1" fill="none"/>
<text x="352.5" y="215.6" font-size="9.4" text-anchor="middle" font-family="'Liberation Serif', serif" fill="#000" >TCP</text>
<text x="440.8" y="215.6" font-size="9.4" text-anchor="middle" font-family="'Liberation Serif', serif" fill="#000" >dPMS</text>
<text x="527.5" y="215.6" font-size="9.4" text-anchor="middle" font-family="'Liberation Serif', serif" fill="#000" >TCP</text>
<text x="616" y="215.6" font-size="9.4" text-anchor="middle" font-family="'Liberation Serif', serif" fill="#000" >dPMS</text>
<line x1="305.5" y1="217.3" x2="469.2" y2="217.3" stroke="#000" stroke-width="1"/>
<line x1="493.2" y1="217.3" x2="656.8" y2="217.3" stroke="#000" stroke-width="1"/>
<text x="392.5" y="226.8" font-size="9.7" text-anchor="middle" font-family="'Liberation Serif', serif" fill="#000" >Rat ASCs</text>
<text x="573.2" y="226.7" font-size="9.7" text-anchor="middle" font-family="'Liberation Serif', serif" fill="#000" >Pig ASCs</text>
<rect x="434.1" y="226.5" width="4.2" height="4.0" fill="#5B9BD5"/>
<text x="440.5" y="231.7" font-size="9.2" text-anchor="start" font-family="'Liberation Serif', serif" fill="#000" >Day 1</text>
<rect x="469.9" y="226.5" width="4.2" height="4.0" fill="#70AD47"/>
<text x="476.2" y="231.7" font-size="9.2" text-anchor="start" font-family="'Liberation Serif', serif" fill="#000" >Day 3</text>
<rect x="505" y="226.5" width="4.2" height="4.0" fill="#ED7D31"/>
<text x="511.2" y="231.7" font-size="9.2" text-anchor="start" font-family="'Liberation Serif', serif" fill="#000" >Day 5</text>
<text x="20.5" y="254.8" font-size="14" text-anchor="start" font-family="'Liberation Serif', serif" fill="#000" >C</text>
<line x1="158.5" y1="259.7" x2="158.5" y2="415.5" stroke="#7a7a7a" stroke-width="1"/>
<line x1="156.5" y1="413.3" x2="158.5" y2="413.3" stroke="#868686" stroke-width="1"/>
<text x="151" y="416.15000000000003" font-size="7.9" text-anchor="end" font-family="'Liberation Sans', sans-serif" fill="#3a3a3a" >0</text>
<line x1="156.5" y1="382.68" x2="158.5" y2="382.68" stroke="#868686" stroke-width="1"/>
<text x="151" y="385.53000000000003" font-size="7.9" text-anchor="end" font-family="'Liberation Sans', sans-serif" fill="#3a3a3a" >50000</text>
<line x1="156.5" y1="352.06" x2="158.5" y2="352.06" stroke="#868686" stroke-width="1"/>
<text x="151" y="354.91" font-size="7.9" text-anchor="end" font-family="'Liberation Sans', sans-serif" fill="#3a3a3a" >100000</text>
<line x1="156.5" y1="321.44" x2="158.5" y2="321.44" stroke="#868686" stroke-width="1"/>
<text x="151" y="324.29" font-size="7.9" text-anchor="end" font-family="'Liberation Sans', sans-serif" fill="#3a3a3a" >150000</text>
<line x1="156.5" y1="290.82" x2="158.5" y2="290.82" stroke="#868686" stroke-width="1"/>
<text x="151" y="293.67" font-size="7.9" text-anchor="end" font-family="'Liberation Sans', sans-serif" fill="#3a3a3a" >200000</text>
<line x1="156.5" y1="260.2" x2="158.5" y2="260.2" stroke="#868686" stroke-width="1"/>
<text x="151" y="263.05" font-size="7.9" text-anchor="end" font-family="'Liberation Sans', sans-serif" fill="#3a3a3a" >250000</text>
<text x="0" y="0" font-size="10.6" text-anchor="middle" font-family="'Liberation Serif', serif" transform="translate(120.8 336.6) rotate(-90)">Number of cells</text>
<line x1="156.5" y1="413.3" x2="540.2" y2="413.3" stroke="#5e5e5e" stroke-width="1"/>
<line x1="158.5" y1="413.3" x2="158.5" y2="415.5" stroke="#868686" stroke-width="1"/>
<line x1="253.925" y1="413.3" x2="253.925" y2="415.5" stroke="#868686" stroke-width="1"/>
<line x1="349.35" y1="413.3" x2="349.35" y2="415.5" stroke="#868686" stroke-width="1"/>
<line x1="444.77500000000003" y1="413.3" x2="444.77500000000003" y2="415.5" stroke="#868686" stroke-width="1"/>
<line x1="540.2" y1="413.3" x2="540.2" y2="415.5" stroke="#868686" stroke-width="1"/>
<rect x="177.0" y="334.9" width="16.7" height="78.40000000000003" fill="#5B9BD5"/>
<line x1="185.35" y1="333.5" x2="185.35" y2="334.9" stroke="#404040" stroke-width="1"/>
<line x1="183.15" y1="333.5" x2="187.54999999999998" y2="333.5" stroke="#404040" stroke-width="1"/>
<rect x="198.2" y="334.9" width="16.7" height="78.40000000000003" fill="#70AD47"/>
<line x1="206.54999999999998" y1="320.4" x2="206.54999999999998" y2="334.9" stroke="#404040" stroke-width="1"/>
<line x1="204.35" y1="320.4" x2="208.74999999999997" y2="320.4" stroke="#404040" stroke-width="1"/>
<rect x="219.4" y="332.7" width="16.7" height="80.60000000000002" fill="#ED7D31"/>
<line x1="227.75" y1="327.9" x2="227.75" y2="332.7" stroke="#404040" stroke-width="1"/>
<line x1="225.55" y1="327.9" x2="229.95" y2="327.9" stroke="#404040" stroke-width="1"/>
<rect x="272.425" y="383.7" width="16.7" height="29.600000000000023" fill="#5B9BD5"/>
<line x1="280.77500000000003" y1="380.5" x2="280.77500000000003" y2="383.7" stroke="#404040" stroke-width="1"/>
<line x1="278.57500000000005" y1="380.5" x2="282.975" y2="380.5" stroke="#404040" stroke-width="1"/>
<rect x="293.625" y="350.8" width="16.7" height="62.5" fill="#70AD47"/>
<line x1="301.975" y1="341.4" x2="301.975" y2="350.8" stroke="#404040" stroke-width="1"/>
<line x1="299.77500000000003" y1="341.4" x2="304.175" y2="341.4" stroke="#404040" stroke-width="1"/>
<rect x="314.825" y="380.1" width="16.7" height="33.19999999999999" fill="#ED7D31"/>
<line x1="323.175" y1="371.7" x2="323.175" y2="380.1" stroke="#404040" stroke-width="1"/>
<line x1="320.975" y1="371.7" x2="325.375" y2="371.7" stroke="#404040" stroke-width="1"/>
<rect x="367.85" y="332.1" width="16.7" height="81.19999999999999" fill="#5B9BD5"/>
<line x1="376.20000000000005" y1="323.5" x2="376.20000000000005" y2="332.1" stroke="#404040" stroke-width="1"/>
<line x1="374.00000000000006" y1="323.5" x2="378.40000000000003" y2="323.5" stroke="#404040" stroke-width="1"/>
<rect x="389.05" y="320.9" width="16.7" height="92.40000000000003" fill="#70AD47"/>
<line x1="397.40000000000003" y1="312.6" x2="397.40000000000003" y2="320.9" stroke="#404040" stroke-width="1"/>
<line x1="395.20000000000005" y1="312.6" x2="399.6" y2="312.6" stroke="#404040" stroke-width="1"/>
<rect x="410.25" y="331.8" width="16.7" height="81.5" fill="#ED7D31"/>
<line x1="418.6" y1="325.4" x2="418.6" y2="331.8" stroke="#404040" stroke-width="1"/>
<line x1="416.40000000000003" y1="325.4" x2="420.8" y2="325.4" stroke="#404040" stroke-width="1"/>
<rect x="463.27500000000003" y="351.0" width="16.7" height="62.30000000000001" fill="#5B9BD5"/>
<line x1="471.62500000000006" y1="330.4" x2="471.62500000000006" y2="351.0" stroke="#404040" stroke-width="1"/>
<line x1="469.42500000000007" y1="330.4" x2="473.82500000000005" y2="330.4" stroke="#404040" stroke-width="1"/>
<rect x="484.475" y="301.3" width="16.7" height="112.0" fill="#70AD47"/>
<line x1="492.82500000000005" y1="287.6" x2="492.82500000000005" y2="301.3" stroke="#404040" stroke-width="1"/>
<line x1="490.62500000000006" y1="287.6" x2="495.02500000000003" y2="287.6" stroke="#404040" stroke-width="1"/>
<rect x="505.675" y="334.0" width="16.7" height="79.30000000000001" fill="#ED7D31"/>
<line x1="514.025" y1="315.2" x2="514.025" y2="334.0" stroke="#404040" stroke-width="1"/>
<line x1="511.825" y1="315.2" x2="516.225" y2="315.2" stroke="#404040" stroke-width="1"/>
<path d="M183.5 304.5 V298.5 H280.7 V304.5" fill="none" stroke="#404040" stroke-width="1"/>
<path d="M234.70 292.20L234.70 295.80M233.14 293.10L236.26 294.90M236.26 293.10L233.14 294.90" stroke="#404040" stroke-width="1.0" fill="none"/>
<path d="M227.4 322.5 V316.9 H323.1 V322.5" fill="none" stroke="#404040" stroke-width="1"/>
<path d="M278.50 310.20L278.50 313.80M276.94 311.10L280.06 312.90M280.06 311.10L276.94 312.90" stroke="#404040" stroke-width="1.0" fill="none"/>
<path d="M281.5 336.7 V331.1 H302.5 V336.7" fill="none" stroke="#404040" stroke-width="1"/>
<path d="M290.70 323.10L290.70 326.70M289.14 324.00L292.26 325.80M292.26 324.00L289.14 325.80" stroke="#404040" stroke-width="1.0" fill="none"/>
<path d="M471.9 281.4 V275.7 H492.4 V281.4" fill="none" stroke="#404040" stroke-width="1"/>
<path d="M481.20 268.00L481.20 271.60M479.64 268.90L482.76 270.70M482.76 268.90L479.64 270.70" stroke="#404040" stroke-width="1.0" fill="none"/>
<text x="206.7" y="425.8" font-size="8.6" text-anchor="middle" font-family="'Liberation Serif', serif" fill="#000" >TCP</text>
<text x="301.8" y="425.9" font-size="8.6" text-anchor="middle" font-family="'Liberation Serif', serif" fill="#000" >dPMS</text>
<text x="397.5" y="425.8" font-size="8.6" text-anchor="middle" font-family="'Liberation Serif', serif" fill="#000" >TCP</text>
<text x="492.4" y="425.9" font-size="8.6" text-anchor="middle" font-family="'Liberation Serif', serif" fill="#000" >dPMS</text>
<line x1="164.9" y1="428.5" x2="345.5" y2="428.5" stroke="#2a2a2a" stroke-width="1"/>
<line x1="355.5" y1="428.5" x2="536.3" y2="428.5" stroke="#3a3a3a" stroke-width="1"/>
<text x="242.5" y="439.7" font-size="9.6" text-anchor="middle" font-family="'Liberation Serif', serif" fill="#000" >Rat ASCs</text>
<text x="446.6" y="439.8" font-size="9.6" text-anchor="middle" font-family="'Liberation Serif', serif" fill="#000" >Pig ASCs</text>
<rect x="306.4" y="441.3" width="3.5" height="3.4" fill="#5B9BD5"/>
<text x="312.2" y="445.6" font-size="8.6" text-anchor="start" font-family="'Liberation Serif', serif" fill="#000" >Day1</text>
<rect x="334.9" y="441.3" width="3.5" height="3.4" fill="#70AD47"/>
<text x="340.9" y="445.6" font-size="8.6" text-anchor="start" font-family="'Liberation Serif', serif" fill="#000" >Day 3</text>
<rect x="365.8" y="441.3" width="3.5" height="3.4" fill="#ED7D31"/>
<text x="371.8" y="445.6" font-size="8.6" text-anchor="start" font-family="'Liberation Serif', serif" fill="#000" >Day 5</text>
</svg>
</body></html>
